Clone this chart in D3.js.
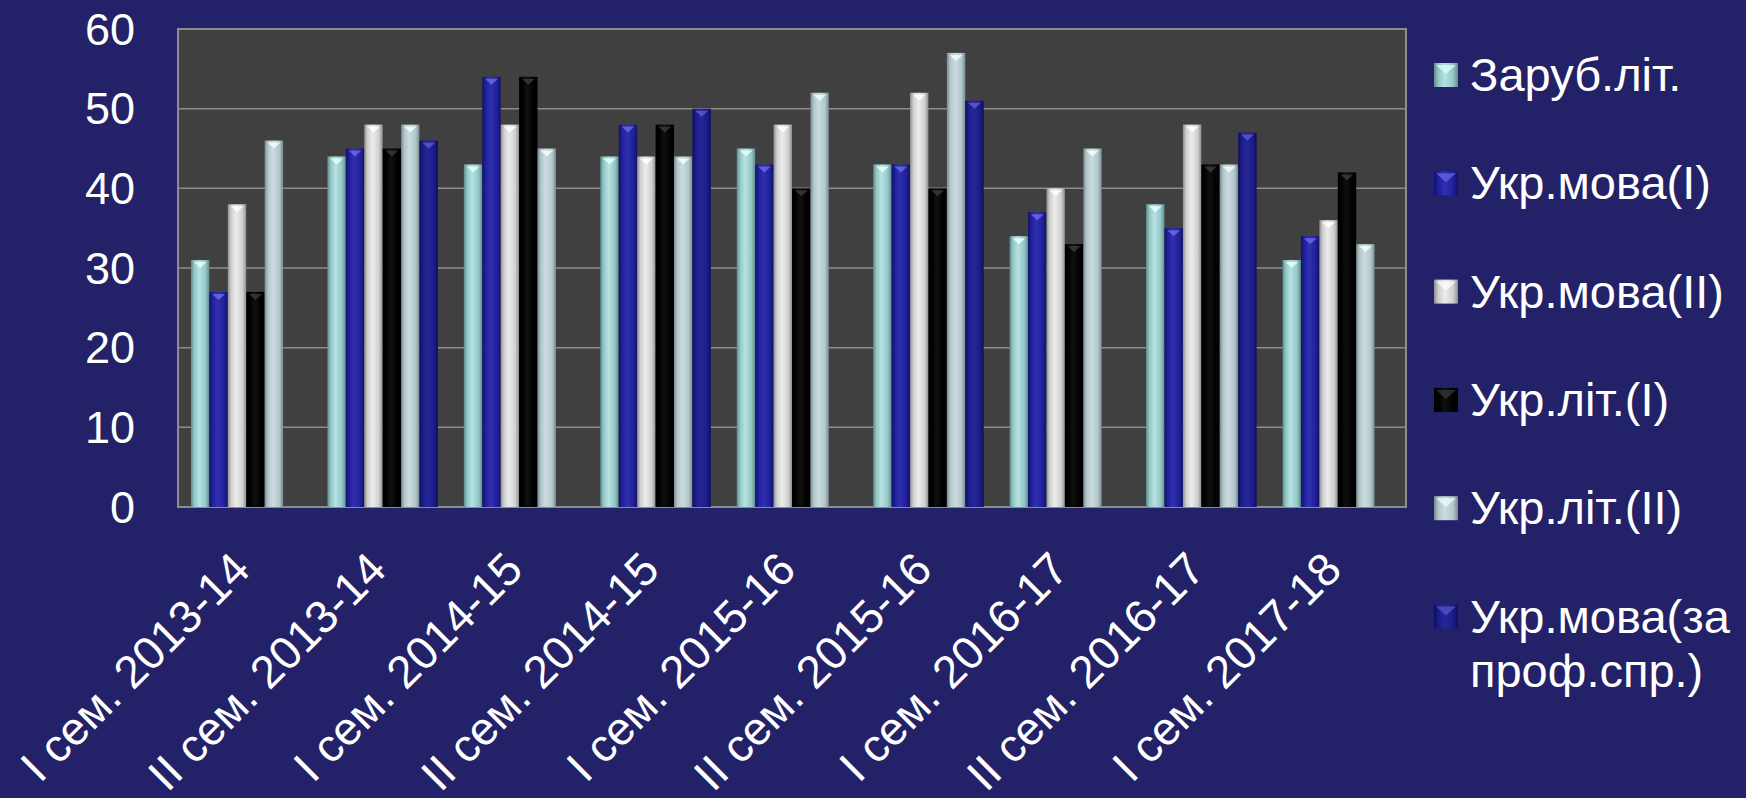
<!DOCTYPE html>
<html>
<head>
<meta charset="utf-8">
<script src="https://cdn.jsdelivr.net/npm/d3@7"></script>
<style>
  body { margin: 0; background: #232168; }
  svg { display: block; font-family: "Liberation Sans", Arial, sans-serif; }
</style>
</head>
<body>
<div id="bar-chart"></div>
<script>
const categories = ["I сем. 2013-14", "II сем. 2013-14", "I сем. 2014-15", "II сем. 2014-15",
    "I сем. 2015-16", "II сем. 2015-16", "I сем. 2016-17", "II сем. 2016-17", "I сем. 2017-18"];
const seriesNames = ["Заруб.літ.", "Укр.мова(I)", "Укр.мова(II)", "Укр.літ.(I)", "Укр.літ.(II)", "Укр.мова(за проф.спр.)"];

const zarubLit   = [31, 44, 43, 44, 45, 43, 34, 38, 31];
const ukrMova1   = [27, 45, 54, 48, 43, 43, 37, 35, 34];
const ukrMova2   = [38, 48, 48, 44, 48, 52, 40, 48, 36];
const ukrLit1    = [27, 45, 54, 48, 40, 40, 33, 43, 42];
const ukrLit2    = [46, 48, 45, 44, 52, 57, 45, 43, 33];
const ukrMovaProf = [null, 46, null, 50, null, 51, null, 47, null];

const yTicks = [0, 10, 20, 30, 40, 50, 60];

// [edge, base, highlight, cap]
const colors = [
    ["#5d8d8d", "#94c6c6", "#b6e2e2", "#e4ffff"],
    ["#10106a", "#20209a", "#3030b0", "#6a6ae8"],
    ["#8e8e8e", "#cfcfcf", "#ececec", "#ffffff"],
    ["#000000", "#000000", "#101010", "#3a3a3a"],
    ["#77898d", "#b2c6ca", "#cbdcdf", "#f0ffff"],
    ["#0d0d5c", "#1c1c88", "#262698", "#5858d0"]
];

const allSeries = [zarubLit, ukrMova1, ukrMova2, ukrLit1, ukrLit2, ukrMovaProf];
const data = categories.map((c, i) => ({
    name: c,
    values: allSeries.map((s, j) => ({key: j, value: s[i]}))
}));

const width = 1746;
const height = 798;
const plot = {left: 178, right: 1406, top: 29, bottom: 507};

const x0 = d3.scaleBand().domain(categories).range([plot.left, plot.right]);
const groupW = x0.bandwidth() * 0.81;
const x1 = d3.scaleBand().domain(d3.range(seriesNames.length))
    .range([(x0.bandwidth() - groupW) / 2, (x0.bandwidth() + groupW) / 2]);
const y = d3.scaleLinear().domain([0, 60]).range([plot.bottom, plot.top]);

const svg = d3.select("#bar-chart")
    .append("svg")
    .attr("width", width)
    .attr("height", height)
    .attr("viewBox", [0, 0, width, height]);

svg.append("rect").attr("width", width).attr("height", height).attr("fill", "#232168");

// gradients for the glassy bar look
const defs = svg.append("defs");
colors.forEach((c, i) => {
    const g = defs.append("linearGradient").attr("id", "bar" + i)
        .attr("x1", "0%").attr("x2", "100%").attr("y1", "0%").attr("y2", "0%");
    g.append("stop").attr("offset", "0%").attr("stop-color", c[0]);
    g.append("stop").attr("offset", "18%").attr("stop-color", c[1]);
    g.append("stop").attr("offset", "45%").attr("stop-color", c[2]);
    g.append("stop").attr("offset", "80%").attr("stop-color", c[1]);
    g.append("stop").attr("offset", "100%").attr("stop-color", c[0]);
});

// plot area
svg.append("rect")
    .attr("x", plot.left).attr("y", plot.top)
    .attr("width", plot.right - plot.left).attr("height", plot.bottom - plot.top)
    .attr("fill", "#404040");

svg.append("g")
    .attr("class", "grid")
    .selectAll("line")
    .data(yTicks.slice(1, -1))
    .join("line")
    .attr("x1", plot.left).attr("x2", plot.right)
    .attr("y1", d => y(d)).attr("y2", d => y(d))
    .attr("stroke", "#8c8c8c")
    .attr("stroke-width", 1.5);

svg.append("rect")
    .attr("x", plot.left).attr("y", plot.top)
    .attr("width", plot.right - plot.left).attr("height", plot.bottom - plot.top)
    .attr("fill", "none")
    .attr("stroke", "#8c8c8c")
    .attr("stroke-width", 2);

const groups = svg.append("g")
    .attr("class", "bars")
    .selectAll("g")
    .data(data)
    .join("g")
    .attr("transform", d => `translate(${x0(d.name)},0)`);

const bars = groups.selectAll("g")
    .data(d => d.values.filter(v => v.value != null))
    .join("g");

bars.append("rect")
    .attr("x", d => x1(d.key))
    .attr("y", d => y(d.value))
    .attr("width", x1.bandwidth())
    .attr("height", d => y(0) - y(d.value))
    .attr("fill", d => `url(#bar${d.key})`);

// small bevel on top of each bar
bars.append("path")
    .attr("d", d => {
        const bx = x1(d.key), w = x1.bandwidth(), by = y(d.value);
        return `M${bx + w * 0.15},${by + 2}L${bx + w * 0.85},${by + 2}L${bx + w * 0.5},${by + 8}Z`;
    })
    .attr("fill", d => colors[d.key][3])
    .attr("opacity", 0.85);

// y axis labels
svg.append("g")
    .attr("class", "y-axis")
    .selectAll("text")
    .data(yTicks)
    .join("text")
    .attr("x", 135)
    .attr("y", d => y(d))
    .attr("dy", "0.35em")
    .attr("text-anchor", "end")
    .attr("fill", "#fff")
    .attr("font-size", 45)
    .text(d => d);

// x axis labels, rotated
const xLabels = svg.append("g")
    .attr("class", "x-axis")
    .selectAll("text")
    .data(categories)
    .join("text")
    .attr("transform", d => `translate(${x0(d) + x0.bandwidth() / 2 + 6},${plot.bottom + 65}) rotate(-45)`)
    .attr("text-anchor", "end")
    .attr("fill", "#fff")
    .attr("font-size", 48)
    .text(d => d);

// fit font so the first label spans about 300px like the original
const firstLen = xLabels.node().getComputedTextLength();
if (firstLen > 0) xLabels.attr("font-size", Math.min(48, 48 * 300 / firstLen));

// legend
const legendX = 1434;
const legendY = 91;
const legendStep = 108.3;
const legend = svg.append("g").attr("class", "legend");
seriesNames.forEach((name, i) => {
    const by = legendY + i * legendStep;
    legend.append("rect")
        .attr("x", legendX).attr("y", by - 28)
        .attr("width", 24).attr("height", 24)
        .attr("fill", `url(#bar${i})`);
    legend.append("path")
        .attr("d", `M${legendX + 2},${by - 26}L${legendX + 22},${by - 26}L${legendX + 12},${by - 17}Z`)
        .attr("fill", colors[i][3]).attr("opacity", 0.7);
    const lines = i === 5 ? ["Укр.мова(за", "проф.спр.)"] : [name];
    legend.append("text")
        .attr("x", legendX + 36).attr("y", by)
        .attr("fill", "#fff")
        .attr("font-size", 47)
        .selectAll("tspan")
        .data(lines)
        .join("tspan")
        .attr("x", legendX + 36)
        .attr("dy", (d, j) => j === 0 ? 0 : 54)
        .text(d => d);
});
</script>
</body>
</html>
